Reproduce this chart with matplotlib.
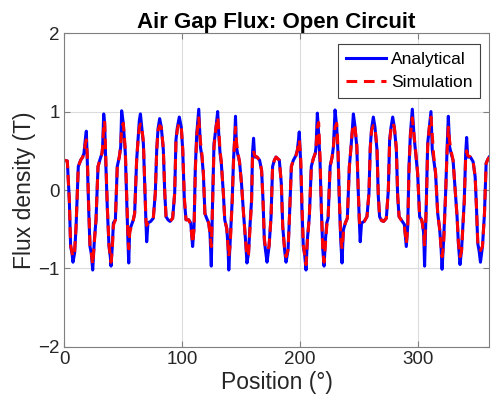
import matplotlib
matplotlib.use("Agg")
import matplotlib.pyplot as plt

plt.rcParams['font.family'] = ['Liberation Sans', 'DejaVu Sans']

# Rotor position in degrees
position = [
    0.0, 2.8, 4.5, 5.6, 6.8, 7.6, 9.0, 10.2, 12.1, 14.1, 15.8, 16.9, 18.0, 18.9, 19.7,
    20.9, 22.0, 23.1, 24.3, 25.7, 27.1, 28.8, 30.5, 32.2, 32.7, 33.6, 34.4, 35.3, 36.7,
    38.1, 39.2, 39.8, 40.9, 41.8, 43.5, 45.1, 46.8, 48.0, 48.8, 50.2, 51.9, 53.1, 54.2,
    54.8, 55.6, 57.3, 58.7, 59.8, 61.5, 62.7, 63.8, 64.7, 65.8, 67.2, 68.3, 69.4, 70.0,
    71.1, 73.4, 75.6, 77.3, 78.5, 79.6, 81.0, 82.4, 84.1, 85.3, 86.4, 88.1, 89.8, 92.0,
    93.7, 94.8, 96.0, 97.6, 99.3, 100.5, 101.9, 103.3, 105.6, 107.3, 108.9, 110.1, 111.2,
    112.4, 114.1, 115.5, 116.8, 118.0, 119.3, 120.8, 122.5, 123.6, 124.7, 125.8, 127.0,
    128.7, 130.1, 131.0, 132.1, 133.2, 134.9, 136.1, 137.8, 138.9, 139.5, 140.7, 142.4,
    143.5, 144.7, 145.2, 146.0, 146.9, 148.6, 150.3, 152.0, 153.7, 154.9, 156.2, 157.6,
    158.8, 159.6, 160.5, 161.4, 163.4, 165.6, 167.3, 168.5, 169.6, 170.7, 171.9, 173.6,
    175.3, 176.6, 178.1, 179.5,
    182.3, 184.0, 185.2, 186.9, 188.0, 189.7, 190.8, 192.5, 194.2, 196.4, 197.5, 198.4,
    199.2, 200.4, 201.5, 202.6, 203.8, 204.9, 206.0, 207.7, 209.4, 211.1, 212.8, 213.4,
    214.5, 215.6, 216.8, 217.9, 219.1, 220.2, 221.3, 222.5, 223.6, 225.3, 227.0, 228.1,
    229.5, 230.9, 232.0, 233.1, 234.3, 235.4, 236.5, 238.2, 239.9, 241.6, 242.8, 243.9,
    245.0, 246.2, 247.9, 249.0, 250.1, 250.8, 251.9, 254.2, 256.5, 258.2, 259.3, 260.4,
    261.9, 263.3, 265.0, 266.1, 267.2, 268.9, 270.6, 272.9, 274.6, 275.7, 276.9, 278.3,
    279.7, 281.4, 282.5, 283.7, 285.9, 288.2, 289.8, 291.0, 292.1, 293.3, 294.9, 296.4,
    297.7, 299.4, 301.1, 302.8, 303.4, 304.5, 305.3, 306.8, 307.9, 309.3, 310.7, 311.8,
    312.9, 314.6, 316.4, 318.0, 319.2, 320.1, 321.4, 323.1, 324.3, 325.4, 326.5, 327.7,
    329.4, 331.0, 332.8, 333.9, 335.3, 336.6, 337.8, 338.9, 340.1, 340.9, 341.8, 344.1,
    346.4, 348.1, 349.2, 350.3, 351.5, 352.6, 354.3, 356.0, 357.4, 358.8, 360.0,
]

# Analytical model (T)
b_analytical = [
    0.38, 0.37, -0.13, -0.72, -0.81, -0.92, -0.80, -0.47, 0.30, 0.38, 0.42, 0.47, 0.64, 0.75, 0.38,
    -0.25, -0.72, -0.81, -1.02, -0.64, -0.38, 0.30, 0.39, 0.47, 0.55, 0.97, 0.85, 0.38, -0.25,
    -0.72, -0.85, -0.97, -0.72, -0.42, -0.38, 0.30, 0.42, 0.55, 1.01, 0.85, 0.47, -0.13, -0.68,
    -0.93, -0.51, -0.44, -0.38, -0.30, 0.38, 0.64, 0.89, 0.97, 0.80, 0.59, 0.08, -0.42, -0.66,
    -0.42, -0.40, -0.36, -0.04, 0.51, 0.78, 0.91, 0.80, 0.51, -0.04, -0.34, -0.38, -0.40, -0.36,
    -0.04, 0.64, 0.80, 0.93, 0.80, 0.51, -0.13, -0.38, -0.38, -0.42, -0.72, -0.47, 0.30,
    0.72, 1.03, 0.55, 0.42, 0.20, -0.30, -0.36, -0.42, -0.55, -0.97, -0.13, 0.59,
    0.80, 1.00, 0.72, 0.47, 0.34, -0.04, -0.38, -0.49, -0.72, -1.02, -0.64, -0.13,
    0.38, 0.72, 0.94, 0.55, 0.47, 0.36, 0.08, -0.30, -0.64, -0.93, -0.81, -0.42,
    -0.13, 0.47, 0.66, 0.42, 0.42, 0.38, 0.25, -0.13, -0.64, -0.78, -0.92, -0.72,
    -0.34, 0.30, 0.38, 0.42,
    0.38, 0.08, -0.47, -0.78, -0.92, -0.76, -0.38, 0.30, 0.38, 0.44, 0.50, 0.62,
    0.74, 0.34, -0.25, -0.72, -0.83, -1.02, -0.64, -0.34, 0.30, 0.40, 0.47, 0.55,
    0.98, 0.72, 0.34, -0.25, -0.76, -0.97, -0.64, -0.42, -0.36, 0.30, 0.42, 0.55,
    1.02, 0.80, 0.47, -0.13, -0.64, -0.93, -0.51, -0.42, -0.36, 0.30, 0.51, 0.72,
    0.97, 0.83, 0.55, 0.04, -0.42, -0.66, -0.42, -0.40, -0.34, -0.04, 0.55, 0.78,
    0.93, 0.80, 0.51, -0.08, -0.34, -0.39, -0.40, -0.36, 0.00, 0.64, 0.80, 0.93,
    0.80, 0.51, -0.08, -0.34, -0.39, -0.44, -0.72, -0.47, 0.30, 0.72, 1.03, 0.68,
    0.47, 0.21, -0.34, -0.38, -0.42, -0.55, -0.97, -0.13, 0.59, 0.80, 1.00, 0.51,
    0.40, 0.21, -0.30, -0.49, -0.72, -1.01, -0.64, -0.04, 0.51, 0.94, 0.55, 0.47,
    0.38, 0.04, -0.34, -0.68, -0.95, -0.76, -0.42, -0.13, 0.47, 0.67, 0.42, 0.42,
    0.36, 0.17, -0.21, -0.68, -0.78, -0.92, -0.72, -0.30, 0.34, 0.39, 0.42,
]

# FEA simulation (T)
b_simulation = [
    0.38, 0.37, -0.13, -0.70, -0.80, -0.85, -0.78, -0.47, 0.30, 0.38, 0.42, 0.47, 0.58, 0.64, 0.45,
    -0.20, -0.70, -0.80, -0.95, -0.66, -0.38, 0.30, 0.39, 0.47, 0.55, 0.80, 0.88, 0.45, -0.22,
    -0.70, -0.85, -0.92, -0.75, -0.45, -0.38, 0.30, 0.42, 0.55, 0.80, 0.85, 0.52, -0.10, -0.62,
    -0.75, -0.55, -0.44, -0.38, -0.30, 0.38, 0.64, 0.80, 0.84, 0.80, 0.62, 0.10, -0.40, -0.45,
    -0.42, -0.40, -0.36, -0.04, 0.51, 0.76, 0.82, 0.80, 0.53, -0.02, -0.34, -0.38, -0.40, -0.36,
    -0.04, 0.62, 0.78, 0.85, 0.80, 0.53, -0.10, -0.38, -0.38, -0.45, -0.68, -0.50, 0.25,
    0.70, 0.92, 0.62, 0.45, 0.22, -0.30, -0.36, -0.42, -0.55, -0.72, -0.20, 0.55,
    0.80, 0.93, 0.78, 0.50, 0.36, -0.04, -0.38, -0.49, -0.72, -0.85, -0.70, -0.15,
    0.35, 0.70, 0.80, 0.62, 0.50, 0.36, 0.08, -0.30, -0.64, -0.85, -0.82, -0.45,
    -0.15, 0.42, 0.50, 0.44, 0.42, 0.38, 0.25, -0.13, -0.62, -0.75, -0.77, -0.72,
    -0.34, 0.30, 0.38, 0.42,
    0.38, 0.08, -0.47, -0.78, -0.85, -0.76, -0.38, 0.30, 0.38, 0.44, 0.50, 0.58,
    0.64, 0.42, -0.20, -0.70, -0.82, -0.95, -0.66, -0.34, 0.30, 0.40, 0.47, 0.55,
    0.80, 0.86, 0.42, -0.22, -0.74, -0.92, -0.70, -0.45, -0.36, 0.30, 0.42, 0.55,
    0.80, 0.85, 0.52, -0.10, -0.60, -0.75, -0.55, -0.42, -0.36, 0.30, 0.51, 0.72,
    0.84, 0.82, 0.58, 0.06, -0.40, -0.45, -0.42, -0.40, -0.34, -0.04, 0.53, 0.76,
    0.82, 0.80, 0.53, -0.06, -0.34, -0.39, -0.40, -0.36, 0.00, 0.62, 0.78, 0.85,
    0.80, 0.53, -0.06, -0.34, -0.39, -0.46, -0.68, -0.50, 0.25, 0.70, 0.92, 0.70,
    0.50, 0.22, -0.34, -0.38, -0.42, -0.55, -0.72, -0.20, 0.55, 0.80, 0.93, 0.70,
    0.45, 0.22, -0.30, -0.49, -0.72, -0.85, -0.70, -0.06, 0.48, 0.80, 0.62, 0.50,
    0.38, 0.04, -0.34, -0.66, -0.85, -0.78, -0.45, -0.15, 0.42, 0.50, 0.44, 0.42,
    0.36, 0.17, -0.21, -0.66, -0.75, -0.77, -0.72, -0.30, 0.34, 0.39, 0.42,
]

fig = plt.figure(figsize=(5.02, 4.19), dpi=100)
ax = fig.add_axes([0.1275, 0.172, 0.847, 0.749])

ax.plot(position, b_analytical, color='#0000ff', linewidth=2.2, label='Analytical',
        solid_joinstyle='round')
ax.plot(position, b_simulation, color='#ff0000', linewidth=2.2, linestyle='--',
        dashes=(3.5, 2.2), label='Simulation')

ax.set_xlim(0, 360)
ax.set_ylim(-2, 2)
ax.set_xticks([0, 100, 200, 300])
ax.set_yticks([-2, -1, 0, 1, 2])
ax.grid(True, color='#dcdcdc', linewidth=0.8)
ax.set_axisbelow(True)

for side in ['top', 'right', 'bottom', 'left']:
    ax.spines[side].set_color('#808080')
    ax.spines[side].set_linewidth(0.8)
ax.tick_params(direction='in', length=4, color='#808080', labelsize=13.5,
               labelcolor='#262626', top=True, right=True, pad=3)

ax.set_title('Air Gap Flux: Open Circuit', fontsize=16, fontweight='bold', pad=4)
ax.set_xlabel('Position (°)', fontsize=16.5, color='#262626', labelpad=2)
ax.set_ylabel('Flux density (T)', fontsize=16.5, color='#262626', labelpad=2)

leg = ax.legend(loc='upper right', bbox_to_anchor=(0.979, 0.965), fontsize=12.5,
                fancybox=False, framealpha=1, edgecolor='#404040',
                handlelength=2.3, handletextpad=0.3, borderpad=0.45,
                labelspacing=0.45, borderaxespad=0)
leg.get_frame().set_linewidth(0.8)

fig.savefig('out.png', dpi=100)
